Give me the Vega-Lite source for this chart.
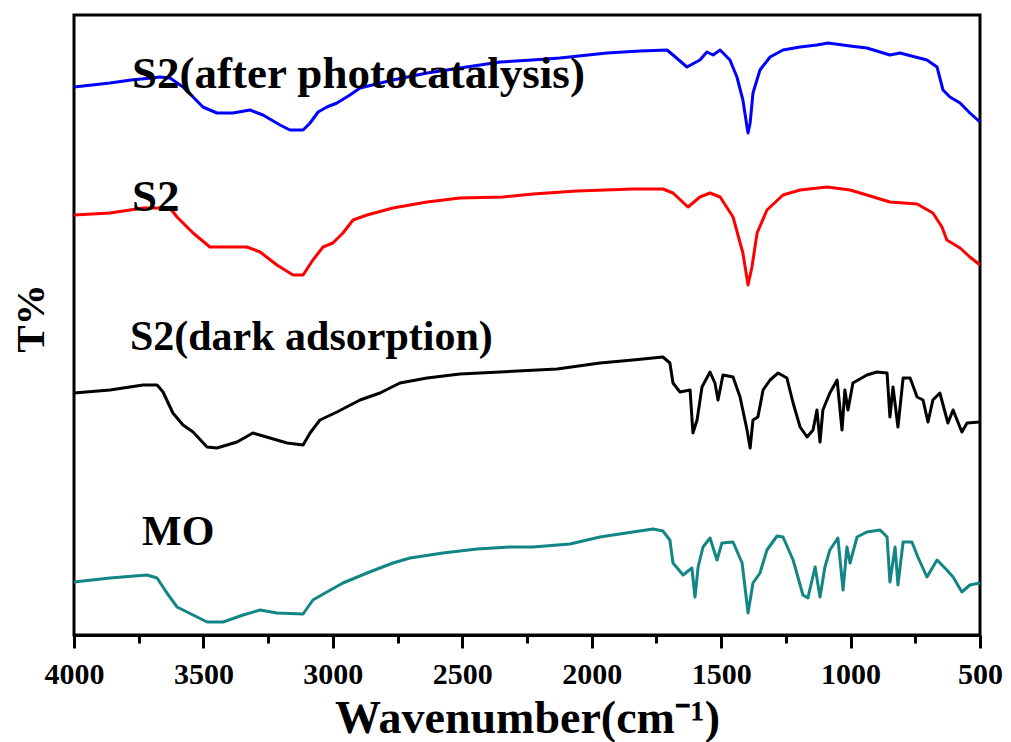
{
"$schema": "https://vega.github.io/schema/vega-lite/v6.json",
"width": 906, "height": 620,
"autosize": {"type": "none"},
"padding": {"left": 74, "top": 15, "right": 31, "bottom": 107},
"background": "white",
"config": {
 "view": {"stroke": "black", "strokeWidth": 3},
 "axis": {"domainColor": "black", "domainWidth": 3, "tickColor": "black", "tickWidth": 3, "labelFont": "Liberation Serif", "labelFontWeight": "bold", "labelColor": "black", "titleFont": "Liberation Serif", "titleFontWeight": "bold", "titleColor": "black", "grid": false}
},
"datasets": {
 "spectra": [
{"s":"after","x":4000,"v":548},{"s":"after","x":3930,"v":550},{"s":"after","x":3861,"v":552},{"s":"after","x":3780,"v":555},{"s":"after","x":3700,"v":557},{"s":"after","x":3668,"v":558},{"s":"after","x":3629,"v":557},{"s":"after","x":3579,"v":548},{"s":"after","x":3540,"v":538},{"s":"after","x":3502,"v":528},{"s":"after","x":3448,"v":522},{"s":"after","x":3386,"v":522},{"s":"after","x":3320,"v":525},{"s":"after","x":3270,"v":520},{"s":"after","x":3204,"v":510},{"s":"after","x":3166,"v":505},{"s":"after","x":3115,"v":505},{"s":"after","x":3088,"v":512},{"s":"after","x":3057,"v":523},{"s":"after","x":3023,"v":528},{"s":"after","x":2984,"v":532},{"s":"after","x":2934,"v":540},{"s":"after","x":2895,"v":547},{"s":"after","x":2768,"v":555},{"s":"after","x":2636,"v":562},{"s":"after","x":2509,"v":567},{"s":"after","x":2354,"v":573},{"s":"after","x":2230,"v":575},{"s":"after","x":2123,"v":577},{"s":"after","x":1941,"v":582},{"s":"after","x":1813,"v":584},{"s":"after","x":1709,"v":585},{"s":"after","x":1686,"v":580},{"s":"after","x":1632,"v":568},{"s":"after","x":1582,"v":575},{"s":"after","x":1555,"v":583},{"s":"after","x":1531,"v":580},{"s":"after","x":1504,"v":585},{"s":"after","x":1466,"v":575},{"s":"after","x":1439,"v":558},{"s":"after","x":1416,"v":535},{"s":"after","x":1400,"v":508},{"s":"after","x":1396,"v":502},{"s":"after","x":1388,"v":512},{"s":"after","x":1377,"v":542},{"s":"after","x":1350,"v":565},{"s":"after","x":1311,"v":578},{"s":"after","x":1261,"v":585},{"s":"after","x":1195,"v":588},{"s":"after","x":1130,"v":590},{"s":"after","x":1087,"v":592},{"s":"after","x":1002,"v":589},{"s":"after","x":937,"v":587},{"s":"after","x":848,"v":580},{"s":"after","x":809,"v":582},{"s":"after","x":705,"v":575},{"s":"after","x":666,"v":568},{"s":"after","x":643,"v":545},{"s":"after","x":616,"v":538},{"s":"after","x":577,"v":532},{"s":"after","x":539,"v":522},{"s":"after","x":500,"v":513},
{"s":"S2","x":4000,"v":420},{"s":"S2","x":3861,"v":422},{"s":"S2","x":3733,"v":427},{"s":"S2","x":3629,"v":427},{"s":"S2","x":3602,"v":418},{"s":"S2","x":3540,"v":402},{"s":"S2","x":3475,"v":388},{"s":"S2","x":3332,"v":388},{"s":"S2","x":3281,"v":383},{"s":"S2","x":3216,"v":370},{"s":"S2","x":3154,"v":360},{"s":"S2","x":3115,"v":360},{"s":"S2","x":3077,"v":375},{"s":"S2","x":3038,"v":388},{"s":"S2","x":3000,"v":392},{"s":"S2","x":2961,"v":402},{"s":"S2","x":2922,"v":415},{"s":"S2","x":2868,"v":420},{"s":"S2","x":2768,"v":427},{"s":"S2","x":2636,"v":433},{"s":"S2","x":2509,"v":437},{"s":"S2","x":2343,"v":438},{"s":"S2","x":2227,"v":441},{"s":"S2","x":2057,"v":444},{"s":"S2","x":1841,"v":446},{"s":"S2","x":1725,"v":446},{"s":"S2","x":1686,"v":442},{"s":"S2","x":1628,"v":428},{"s":"S2","x":1582,"v":438},{"s":"S2","x":1543,"v":442},{"s":"S2","x":1504,"v":438},{"s":"S2","x":1454,"v":418},{"s":"S2","x":1416,"v":382},{"s":"S2","x":1396,"v":350},{"s":"S2","x":1381,"v":368},{"s":"S2","x":1361,"v":402},{"s":"S2","x":1323,"v":425},{"s":"S2","x":1261,"v":440},{"s":"S2","x":1195,"v":445},{"s":"S2","x":1091,"v":448},{"s":"S2","x":1002,"v":445},{"s":"S2","x":937,"v":440},{"s":"S2","x":848,"v":433},{"s":"S2","x":743,"v":431},{"s":"S2","x":682,"v":422},{"s":"S2","x":647,"v":408},{"s":"S2","x":628,"v":395},{"s":"S2","x":577,"v":387},{"s":"S2","x":539,"v":378},{"s":"S2","x":500,"v":370},
{"s":"dark","x":4000,"v":242},{"s":"dark","x":3861,"v":245},{"s":"dark","x":3733,"v":250},{"s":"dark","x":3679,"v":250},{"s":"dark","x":3656,"v":243},{"s":"dark","x":3618,"v":222},{"s":"dark","x":3579,"v":210},{"s":"dark","x":3540,"v":203},{"s":"dark","x":3486,"v":188},{"s":"dark","x":3448,"v":187},{"s":"dark","x":3370,"v":193},{"s":"dark","x":3309,"v":202},{"s":"dark","x":3243,"v":197},{"s":"dark","x":3177,"v":192},{"s":"dark","x":3115,"v":190},{"s":"dark","x":3088,"v":202},{"s":"dark","x":3050,"v":215},{"s":"dark","x":2984,"v":223},{"s":"dark","x":2895,"v":235},{"s":"dark","x":2818,"v":242},{"s":"dark","x":2741,"v":252},{"s":"dark","x":2636,"v":257},{"s":"dark","x":2509,"v":261},{"s":"dark","x":2354,"v":263},{"s":"dark","x":2134,"v":266},{"s":"dark","x":1968,"v":272},{"s":"dark","x":1841,"v":275},{"s":"dark","x":1725,"v":278},{"s":"dark","x":1698,"v":272},{"s":"dark","x":1686,"v":252},{"s":"dark","x":1659,"v":243},{"s":"dark","x":1620,"v":245},{"s":"dark","x":1609,"v":202},{"s":"dark","x":1593,"v":215},{"s":"dark","x":1574,"v":248},{"s":"dark","x":1543,"v":263},{"s":"dark","x":1524,"v":252},{"s":"dark","x":1512,"v":235},{"s":"dark","x":1493,"v":260},{"s":"dark","x":1454,"v":258},{"s":"dark","x":1427,"v":238},{"s":"dark","x":1400,"v":205},{"s":"dark","x":1388,"v":187},{"s":"dark","x":1377,"v":215},{"s":"dark","x":1358,"v":218},{"s":"dark","x":1338,"v":245},{"s":"dark","x":1311,"v":255},{"s":"dark","x":1280,"v":262},{"s":"dark","x":1246,"v":257},{"s":"dark","x":1222,"v":232},{"s":"dark","x":1195,"v":208},{"s":"dark","x":1168,"v":198},{"s":"dark","x":1145,"v":205},{"s":"dark","x":1130,"v":225},{"s":"dark","x":1118,"v":193},{"s":"dark","x":1107,"v":225},{"s":"dark","x":1080,"v":242},{"s":"dark","x":1052,"v":255},{"s":"dark","x":1033,"v":205},{"s":"dark","x":1022,"v":245},{"s":"dark","x":1010,"v":225},{"s":"dark","x":991,"v":252},{"s":"dark","x":937,"v":260},{"s":"dark","x":898,"v":263},{"s":"dark","x":859,"v":262},{"s":"dark","x":848,"v":218},{"s":"dark","x":836,"v":248},{"s":"dark","x":817,"v":208},{"s":"dark","x":797,"v":257},{"s":"dark","x":770,"v":257},{"s":"dark","x":743,"v":238},{"s":"dark","x":720,"v":235},{"s":"dark","x":701,"v":213},{"s":"dark","x":682,"v":235},{"s":"dark","x":655,"v":242},{"s":"dark","x":624,"v":212},{"s":"dark","x":604,"v":225},{"s":"dark","x":570,"v":203},{"s":"dark","x":550,"v":212},{"s":"dark","x":500,"v":213},
{"s":"MO","x":4000,"v":53},{"s":"MO","x":3861,"v":57},{"s":"MO","x":3718,"v":60},{"s":"MO","x":3679,"v":57},{"s":"MO","x":3641,"v":42},{"s":"MO","x":3602,"v":28},{"s":"MO","x":3540,"v":20},{"s":"MO","x":3486,"v":13},{"s":"MO","x":3424,"v":13},{"s":"MO","x":3347,"v":20},{"s":"MO","x":3281,"v":25},{"s":"MO","x":3216,"v":22},{"s":"MO","x":3115,"v":21},{"s":"MO","x":3077,"v":35},{"s":"MO","x":3023,"v":43},{"s":"MO","x":2961,"v":52},{"s":"MO","x":2868,"v":62},{"s":"MO","x":2768,"v":72},{"s":"MO","x":2702,"v":77},{"s":"MO","x":2575,"v":82},{"s":"MO","x":2443,"v":86},{"s":"MO","x":2316,"v":88},{"s":"MO","x":2227,"v":88},{"s":"MO","x":2084,"v":91},{"s":"MO","x":1968,"v":98},{"s":"MO","x":1841,"v":103},{"s":"MO","x":1763,"v":106},{"s":"MO","x":1725,"v":104},{"s":"MO","x":1698,"v":95},{"s":"MO","x":1686,"v":72},{"s":"MO","x":1647,"v":60},{"s":"MO","x":1613,"v":67},{"s":"MO","x":1601,"v":38},{"s":"MO","x":1589,"v":68},{"s":"MO","x":1570,"v":88},{"s":"MO","x":1543,"v":97},{"s":"MO","x":1516,"v":75},{"s":"MO","x":1497,"v":92},{"s":"MO","x":1454,"v":93},{"s":"MO","x":1419,"v":72},{"s":"MO","x":1396,"v":22},{"s":"MO","x":1377,"v":52},{"s":"MO","x":1350,"v":62},{"s":"MO","x":1323,"v":85},{"s":"MO","x":1284,"v":99},{"s":"MO","x":1261,"v":98},{"s":"MO","x":1222,"v":75},{"s":"MO","x":1184,"v":40},{"s":"MO","x":1165,"v":37},{"s":"MO","x":1137,"v":68},{"s":"MO","x":1118,"v":38},{"s":"MO","x":1099,"v":68},{"s":"MO","x":1080,"v":85},{"s":"MO","x":1049,"v":97},{"s":"MO","x":1029,"v":45},{"s":"MO","x":1014,"v":88},{"s":"MO","x":1002,"v":72},{"s":"MO","x":975,"v":98},{"s":"MO","x":937,"v":103},{"s":"MO","x":886,"v":105},{"s":"MO","x":859,"v":98},{"s":"MO","x":848,"v":53},{"s":"MO","x":828,"v":88},{"s":"MO","x":817,"v":50},{"s":"MO","x":797,"v":93},{"s":"MO","x":763,"v":93},{"s":"MO","x":740,"v":78},{"s":"MO","x":705,"v":58},{"s":"MO","x":666,"v":75},{"s":"MO","x":628,"v":65},{"s":"MO","x":604,"v":58},{"s":"MO","x":570,"v":43},{"s":"MO","x":539,"v":50},{"s":"MO","x":500,"v":52}
 ],
 "labels": [
  {"label": "S2(after photocatalysis)", "x": 3776, "v": 547},
  {"label": "S2", "x": 3776, "v": 424},
  {"label": "S2(dark adsorption)", "x": 3784, "v": 285},
  {"label": "MO", "x": 3737, "v": 90}
 ]
},
"layer": [
 {
  "data": {"name": "spectra"},
  "mark": {"type": "line", "strokeWidth": 3, "strokeJoin": "round"},
  "encoding": {
   "x": {"field": "x", "type": "quantitative",
    "scale": {"domain": [500, 4000], "reverse": true, "nice": false, "zero": false},
    "axis": {"values": [4000,3750,3500,3250,3000,2750,2500,2250,2000,1750,1500,1250,1000,750,500],
     "format": "d", "labelExpr": "datum.value % 500 === 0 ? datum.label : ''",
     "tickSize": {"condition": {"test": "datum.value % 500 === 0", "value": 13}, "value": 8},
     "labelFontSize": 30, "labelPadding": 11, "labelFlush": false, "labelOverlap": false, "labelBound": false,
     "title": "Wavenumber(cm⁻¹)", "titleFontSize": 46, "titleX": 453, "titleY": 97, "titleBaseline": "alphabetic", "titleAlign": "center"}},
   "y": {"field": "v", "type": "quantitative",
    "scale": {"domain": [0, 620], "nice": false, "zero": false},
    "axis": {"title": "T%", "labels": false, "ticks": false, "domain": false, "titleFontSize": 41, "titleX": -31, "titleY": 303, "titleAngle": -90, "titleBaseline": "alphabetic", "titleAlign": "center"}},
   "color": {"field": "s", "type": "nominal",
    "scale": {"domain": ["after", "S2", "dark", "MO"], "range": ["#0000ff", "#ff0000", "#000000", "#128585"]},
    "legend": null}
  }
 },
 {
  "data": {"name": "labels"},
  "transform": [{"filter": {"field": "label", "oneOf": ["S2(after photocatalysis)", "S2"]}}],
  "mark": {"type": "text", "font": "Liberation Serif", "fontWeight": "bold", "fontSize": 45, "align": "left", "baseline": "alphabetic", "color": "black"},
  "encoding": {
   "x": {"field": "x", "type": "quantitative"},
   "y": {"field": "v", "type": "quantitative"},
   "text": {"field": "label"}
  }
 },
 {
  "data": {"name": "labels"},
  "transform": [{"filter": {"field": "label", "oneOf": ["S2(dark adsorption)", "MO"]}}],
  "mark": {"type": "text", "font": "Liberation Serif", "fontWeight": "bold", "fontSize": 42, "align": "left", "baseline": "alphabetic", "color": "black"},
  "encoding": {
   "x": {"field": "x", "type": "quantitative"},
   "y": {"field": "v", "type": "quantitative"},
   "text": {"field": "label"}
  }
 }
]
}
